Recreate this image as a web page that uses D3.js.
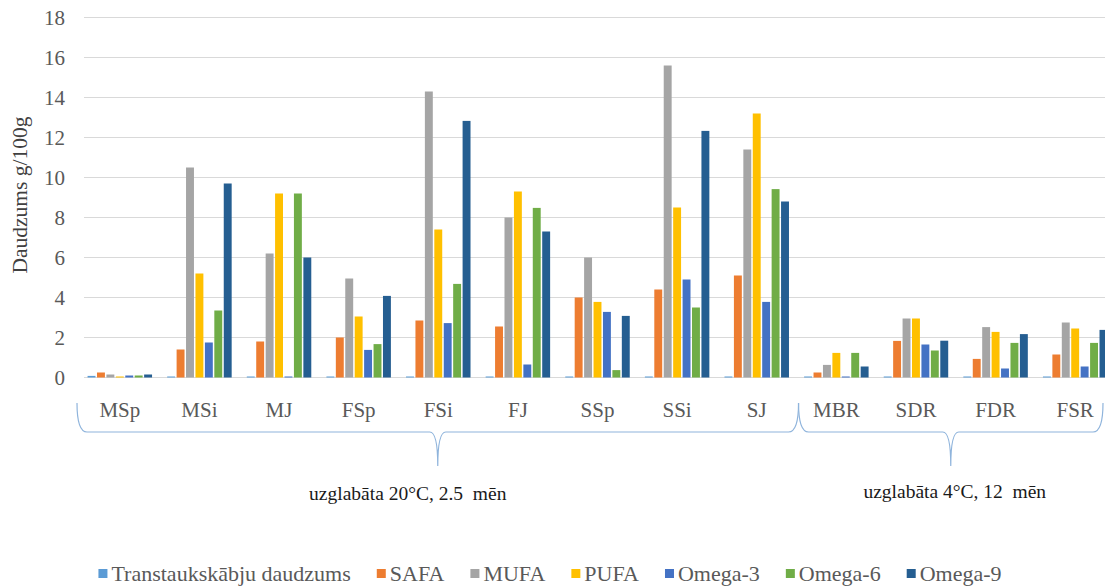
<!DOCTYPE html>
<html>
<head>
<meta charset="utf-8">
<script src="https://cdn.jsdelivr.net/npm/d3@7"></script>
<style>
  body { margin: 0; background: #fff; }
  svg { display: block; }
  text { font-family: "Liberation Serif", "DejaVu Serif", serif; white-space: pre; }
  .tick-label { fill: #595959; font-size: 21px; }
  .cat-label { fill: #595959; font-size: 21px; }
  .ytitle { fill: #404040; font-size: 21.5px; }
  .group-label { fill: #1a1a1a; font-size: 19.5px; }
  .legend { fill: #595959; font-size: 22px; }
</style>
</head>
<body>
<svg id="chart" width="1105" height="588"></svg>
<script>
const categories = ["MSp","MSi","MJ","FSp","FSi","FJ","SSp","SSi","SJ","MBR","SDR","FDR","FSR"];
const seriesNames = ["Transtaukskābju daudzums","SAFA","MUFA","PUFA","Omega-3","Omega-6","Omega-9"];
const seriesColors = ["#5B9BD5","#ED7D31","#A5A5A5","#FFC000","#4472C4","#70AD47","#255E91"];

const trans  = [0.08,0.05,0.05,0.05,0.05,0.05,0.05,0.05,0.05,0.05,0.05,0.05,0.05];
const safa   = [0.25,1.4,1.8,2.0,2.85,2.55,4.0,4.4,5.1,0.25,1.83,0.93,1.15];
const mufa   = [0.15,10.5,6.2,4.95,14.3,8.0,6.0,15.6,11.4,0.63,2.95,2.52,2.75];
const pufa   = [0.05,5.2,9.2,3.05,7.4,9.3,3.78,8.5,13.2,1.23,2.95,2.28,2.45];
const omega3 = [0.1,1.75,0.05,1.38,2.72,0.65,3.28,4.9,3.78,0.05,1.65,0.45,0.55];
const omega6 = [0.1,3.35,9.2,1.67,4.68,8.48,0.37,3.5,9.42,1.23,1.35,1.73,1.73];
const omega9 = [0.15,9.7,6.0,4.08,12.83,7.3,3.08,12.33,8.8,0.55,1.84,2.17,2.38];
const seriesValues = [trans, safa, mufa, pufa, omega3, omega6, omega9];

const yTicks = [0,2,4,6,8,10,12,14,16,18];
const groups = [
    {label: "uzglabāta 20°C, 2.5  mēn", from: "MSp", to: "SJ", shift: -30},
    {label: "uzglabāta 4°C, 12  mēn", from: "MBR", to: "FSR", shift: 4}
];

function bar_chart(ax, width=1105, height=588)
{
    const svg = d3.select(ax);
    const plotLeft = 84;

    const x = d3.scaleBand().domain(categories).range([80, 1115])
                .paddingInner(0.19).paddingOuter(0.095);
    const xInner = d3.scaleBand().domain(d3.range(seriesNames.length))
                .range([0, x.bandwidth()]).paddingInner(0.16);
    const y = d3.scaleLinear().domain([0, 18]).range([377.5, 17.5]);

    // gridlines
    svg.append("g").selectAll("line")
        .data(yTicks)
        .join("line")
        .attr("x1", plotLeft).attr("x2", width)
        .attr("y1", d => y(d)).attr("y2", d => y(d))
        .attr("stroke", "#d9d9d9").attr("stroke-width", 1);

    // y labels
    svg.append("g").selectAll("text")
        .data(yTicks)
        .join("text")
        .attr("class", "tick-label")
        .attr("x", 65).attr("y", d => y(d)).attr("dy", "0.35em")
        .attr("text-anchor", "end")
        .text(d => d);

    svg.append("text")
        .attr("class", "ytitle")
        .attr("transform", `translate(${27},${195}) rotate(-90)`)
        .attr("text-anchor", "middle")
        .text("Daudzums g/100g");

    // bars
    const rows = categories.map((c, i) => ({cat: c, vals: seriesValues.map(s => s[i])}));
    svg.append("g").selectAll("g")
        .data(rows)
        .join("g")
        .attr("transform", d => `translate(${x(d.cat)},0)`)
        .selectAll("rect")
        .data(d => d.vals)
        .join("rect")
        .attr("x", (d, i) => xInner(i))
        .attr("width", xInner.bandwidth())
        .attr("y", d => y(d))
        .attr("height", d => y(0) - y(d))
        .attr("fill", (d, i) => seriesColors[i]);

    // category labels
    svg.append("g").selectAll("text")
        .data(categories)
        .join("text")
        .attr("class", "cat-label")
        .attr("x", d => x(d) + x.bandwidth() / 2)
        .attr("y", 417)
        .attr("text-anchor", "middle")
        .text(d => d);

    // braces
    const yTop = 403, yMid = 432, yTip = 466;
    const edge = c => x(c) - x.step() * x.paddingInner() / 2;
    groups.forEach((g, i) => {
        const x1 = i === 0 ? edge(g.from) - 3 : edge(g.from) + 2;
        const x2 = Math.min(width - 2, edge(g.to) + x.step() + 2);
        const xm = (x1 + x2) / 2;
        const p = d3.path();
        p.moveTo(x1, yTop);
        p.quadraticCurveTo(x1, yMid, x1 + 10, yMid);
        p.lineTo(xm - 8, yMid);
        p.quadraticCurveTo(xm, yMid, xm, yTip);
        p.moveTo(xm, yTip);
        p.quadraticCurveTo(xm, yMid, xm + 8, yMid);
        p.lineTo(x2 - 10, yMid);
        p.quadraticCurveTo(x2, yMid, x2, yTop);
        svg.append("path")
            .attr("d", p.toString())
            .attr("fill", "none")
            .attr("stroke", "#8fb4dc")
            .attr("stroke-width", 1.2);
        svg.append("text")
            .attr("class", "group-label")
            .attr("x", xm + g.shift).attr("y", 500 - i * 2)
            .attr("text-anchor", "middle")
            .text(g.label);
    });

    // legend
    const gap = 26;
    const lg = svg.append("g");
    let cx = 0;
    seriesNames.forEach((d, i) => {
        const item = lg.append("g").attr("transform", `translate(${cx},0)`);
        item.append("rect")
            .attr("x", 0).attr("y", -12)
            .attr("width", 9).attr("height", 9)
            .attr("fill", seriesColors[i]);
        const t = item.append("text")
            .attr("class", "legend")
            .attr("x", 13).attr("y", 0)
            .text(d);
        cx += 13 + t.node().getComputedTextLength() + gap;
    });
    const total = cx - gap;
    lg.attr("transform", `translate(${(94 + 1006) / 2 - total / 2},${581})`);
}

bar_chart("#chart");
</script>
</body>
</html>
